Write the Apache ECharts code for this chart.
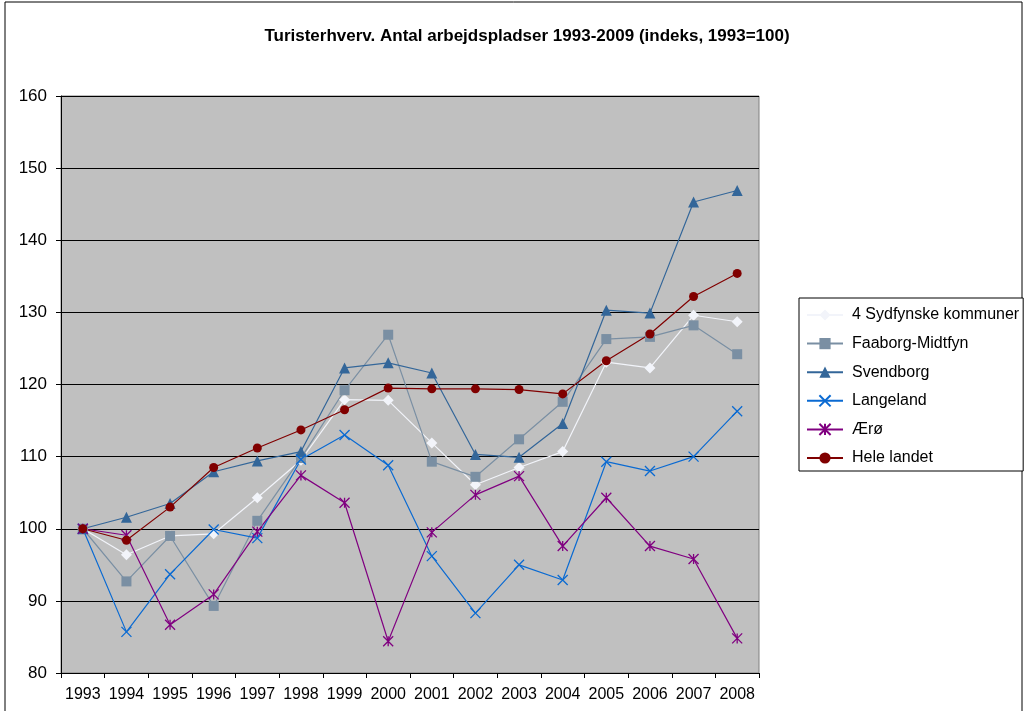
<!DOCTYPE html>
<html>
<head>
<meta charset="utf-8">
<script src="https://cdn.jsdelivr.net/npm/echarts@6/dist/echarts.min.js"></script>
<style>
  html, body { margin: 0; padding: 0; background: #fff; }
  #main { width: 1028px; height: 711px; }
</style>
</head>
<body>
<div id="main"></div>
<script>
// data
const years = ["1993", "1994", "1995", "1996", "1997", "1998", "1999", "2000",
  "2001", "2002", "2003", "2004", "2005", "2006", "2007", "2008"];
const sydfyn = [100, 96.4, 99.0, 99.3, 104.3, 109.5, 117.9, 117.8, 111.9, 106.1, 108.5, 110.7, 123.1, 122.3, 129.6, 128.7];
const faaborg = [100, 92.7, 99.0, 89.3, 101.1, 109.8, 119.2, 126.9, 109.3, 107.2, 112.4, 117.6, 126.3, 126.6, 128.2, 124.2];
const svendborg = [100, 101.6, 103.5, 107.9, 109.4, 110.7, 122.3, 123.0, 121.6, 110.3, 109.9, 114.6, 130.3, 129.9, 145.3, 146.9];
const langeland = [100, 85.7, 93.7, 99.9, 98.7, 109.6, 113.0, 108.8, 96.2, 88.3, 95.0, 92.9, 109.3, 108.0, 110.0, 116.3];
const aeroe = [100, 99.1, 86.7, 90.9, 99.6, 107.4, 103.6, 84.4, 99.5, 104.7, 107.3, 97.6, 104.3, 97.6, 95.8, 84.8];
const heleLandet = [100, 98.4, 103.0, 108.5, 111.2, 113.7, 116.5, 119.5, 119.4, 119.4, 119.3, 118.7, 123.3, 127.0, 132.2, 135.4];

const crossPath = "path://M0,0 L10,10 M10,0 L0,10";
const starPath = "path://M0,0 L10,10 M10,0 L0,10 M5,0 L5,10";

function mkSeries(name, data, color, symbol, size, stroked) {
  return {
    name: name,
    type: "line",
    data: data,
    symbol: symbol,
    symbolSize: size,
    showAllSymbol: true,
    lineStyle: { color: color, width: 1.2 },
    itemStyle: stroked
      ? { color: color, borderColor: color, borderWidth: 1.3 }
      : { color: color, borderWidth: 0 },
    emphasis: { disabled: true },
    animation: false
  };
}

const myChart = echarts.init(document.getElementById("main"));

const option = {
  backgroundColor: "#fff",
  title: {
    text: "Turisterhverv. Antal arbejdspladser 1993-2009 (indeks, 1993=100)",
    left: 522,
    top: 23,
    textAlign: "center",
    textStyle: { fontFamily: "Liberation Sans", fontSize: 17, fontWeight: "bold", color: "#000" }
  },
  graphic: [{
    type: "rect",
    shape: { x: 5, y: 2, width: 1017, height: 740 },
    style: { fill: "none", stroke: "#000", lineWidth: 1 },
    silent: true
  }],
  legend: {
    orient: "vertical",
    left: 799,
    top: 298,
    padding: [9, 4, 5, 7],
    itemWidth: 36,
    itemHeight: 14,
    itemGap: 12.6,
    borderColor: "#000",
    borderWidth: 1,
    backgroundColor: "#fff",
    textStyle: { fontFamily: "Liberation Sans", fontSize: 16, color: "#000", padding: [0, 0, 0, 4] },
    data: ["4 Sydfynske kommuner", "Faaborg-Midtfyn", "Svendborg", "Langeland", "Ærø", "Hele landet"]
  },
  grid: {
    left: 61,
    top: 96,
    width: 698,
    height: 577,
    show: true,
    backgroundColor: "#C0C0C0",
    borderColor: "#808080",
    borderWidth: 1
  },
  xAxis: {
    type: "category",
    data: years,
    boundaryGap: true,
    axisLine: { lineStyle: { color: "#000", width: 1 } },
    axisTick: { show: true, length: 5, interval: 0, lineStyle: { color: "#000" } },
    axisLabel: { interval: 0, margin: 14, fontFamily: "Liberation Sans", fontSize: 16, color: "#000" },
    splitLine: { show: false }
  },
  yAxis: {
    type: "value",
    min: 80,
    max: 160,
    interval: 10,
    axisLine: { show: true, lineStyle: { color: "#000", width: 1 } },
    axisTick: { show: true, length: 5, lineStyle: { color: "#000" } },
    axisLabel: { margin: 14, fontFamily: "Liberation Sans", fontSize: 17, color: "#000" },
    splitLine: { show: true, lineStyle: { color: "#000", width: 1 } }
  },
  series: [
    mkSeries("4 Sydfynske kommuner", sydfyn, "#F2F4FA", "diamond", 11, false),
    mkSeries("Faaborg-Midtfyn", faaborg, "#7A8FA3", "rect", 10, false),
    mkSeries("Svendborg", svendborg, "#336699", "triangle", 11, false),
    mkSeries("Langeland", langeland, "#0A6AD2", crossPath, 10, true),
    mkSeries("Ærø", aeroe, "#800080", starPath, 10, true),
    mkSeries("Hele landet", heleLandet, "#800000", "circle", 9, false)
  ]
};

myChart.setOption(option);
</script>
</body>
</html>
